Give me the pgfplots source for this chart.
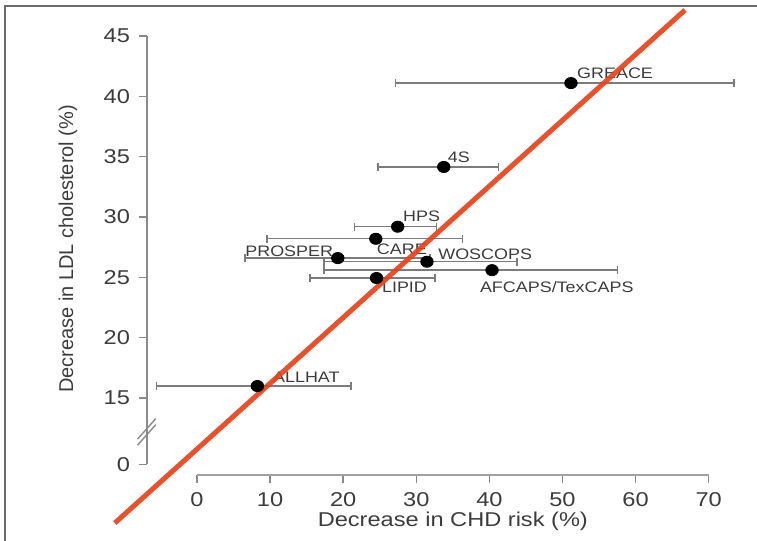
\documentclass[border=0pt]{standalone}
\usepackage{fontspec}
\setmainfont{Liberation Sans}[FakeStretch=1.18]
\newfontfamily\plainsans{Liberation Sans}
\usepackage{pgfplots}
\usepackage{pgfplotstable}
\pgfplotsset{compat=1.18}

\definecolor{axisgray}{HTML}{8A8A8A}
\definecolor{bargray}{HTML}{7C7C7C}
\definecolor{txt}{HTML}{3C3C3C}
\definecolor{fitred}{HTML}{E8431A}
\definecolor{framegray}{HTML}{6A6A6A}

% trial  x(CHD)  y(LDL)  err+  err-
\pgfplotstableread{
name     x     y      ep    em
GREACE   51.2  41.1   22.3  24.0
4S       33.8  34.15  7.5   9.0
HPS      27.5  29.2   5.3   5.9
CARE     24.5  28.2   11.9  14.9
PROSPER  19.3  26.6   12.6  12.7
WOSCOPS  31.5  26.3   12.3  14.1
LIPID    24.6  24.95  8.0   9.1
AFCAPS   40.4  25.6   17.2  23.0
ALLHAT   8.3   16.0   12.8  13.8
}\trials

\begin{document}
\begin{tikzpicture}
\useasboundingbox (0,0) rectangle (378.5pt,270.5pt);
\draw[framegray, line width=1.4pt] (2.5pt,0) -- (2.5pt,267.5pt) -- (378.5pt,267.5pt);

% x axis (its own axis, offset below the y axis)
\begin{axis}[
  at={(98.5pt,33pt)}, anchor=south west,
  x=3.655pt, y=6.035pt,
  xmin=0, xmax=70, ymin=8.63, ymax=9.0,
  axis x line=bottom, axis y line=none,
  x axis line style={-, color=axisgray!80, line width=1.1pt},
  xtick={0,10,...,70},
  tick align=outside, major tick length=4pt,
  tick style={color=axisgray, line width=0.7pt},
  /pgf/number format/assume math mode=true,
  xticklabel style={font=\fontsize{10}{12}\selectfont, color=txt, yshift=-1pt},
  xlabel={Decrease in CHD risk (\%)},
  xlabel style={at={(axis description cs:0.5,0)}, anchor=center, yshift=-23pt,
                font=\fontsize{10}{12}\selectfont, color=txt},
]
\end{axis}

% y axis with the data
\begin{axis}[
  name=ya,
  at={(73.5pt,38.25pt)}, anchor=south west,
  x=3.655pt, y=6.035pt,
  xmin=-6.8, xmax=70, ymin=9.5, ymax=45,
  axis x line=none, axis y line=left,
  y axis line style={-, color=axisgray, line width=0.8pt},
  ytick={9.5,15,20,25,30,35,40,45},
  yticklabels={0,15,20,25,30,35,40,45},
  tick align=outside, major tick length=4pt,
  tick style={color=axisgray, line width=0.7pt},
  /pgf/number format/assume math mode=true,
  yticklabel style={font=\fontsize{10}{12}\selectfont, color=txt, xshift=-1pt},
  ylabel={Decrease in LDL cholesterol (\%)},
  ylabel style={at={(axis description cs:-0.1407,0.503)}, anchor=center,
                font=\plainsans\fontsize{10}{12}\selectfont, color=txt},
  clip=false,
]
\addplot[only marks, mark=*, mark size=2.8pt,
         mark options={fill=black, draw=black, xscale=1.12},
         error bars/.cd, x dir=both, x explicit,
         error bar style={color=bargray, line width=0.7pt},
         error mark options={color=bargray, line width=0.7pt, mark size=2pt, rotate=90}]
  table[x=x, y=y, x error plus=ep, x error minus=em] {\trials};

\begin{scope}[every node/.style={anchor=west, inner sep=0pt, color=txt,
                                 font=\fontsize{7.6}{9}\selectfont}]
\node at (axis cs:52.0,41.93) {GREACE};
\node at (axis cs:34.3,34.97) {4S};
\node at (axis cs:28.2,30.09) {HPS};
\node at (axis cs:24.6,27.35) {CARE};
\node at (axis cs:6.6,27.19) {PROSPER};
\node at (axis cs:33.0,26.94) {WOSCOPS};
\node at (axis cs:25.3,24.2) {LIPID};
\node at (axis cs:38.7,24.2) {AFCAPS/TexCAPS};
\node at (axis cs:10.4,16.75) {ALLHAT};
\end{scope}

% axis break marks
\draw[axisgray, line width=0.7pt] (axis cs:-8.1,11.1) -- (axis cs:-5.6,12.8);
\draw[axisgray, line width=0.7pt] (axis cs:-8.1,11.6) -- (axis cs:-5.6,13.3);

\addplot[fitred, line width=2.5pt, opacity=0.93] coordinates {(-11.2,4.65) (66.8,47.15)};
\end{axis}
\end{tikzpicture}
\end{document}
